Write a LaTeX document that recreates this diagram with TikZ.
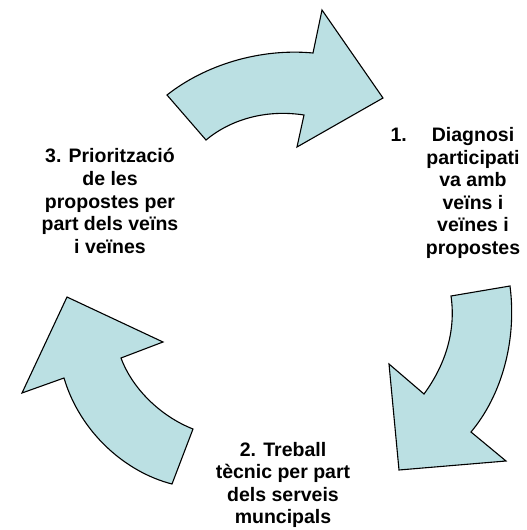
\documentclass[tikz,border=0pt]{standalone}
\usepackage{fontspec}
\setmainfont{Liberation Sans}
\definecolor{arrowfill}{HTML}{BBE0E3}
\begin{document}
\begin{tikzpicture}[x=1pt,y=-1pt,
  cyclearrow/.style={draw=black,fill=arrowfill,line width=1.1pt,line join=miter},
  steplabel/.style={align=center,inner sep=0pt,font=\fontsize{19.5}{22.6}\selectfont\bfseries}]
\useasboundingbox (0,0) rectangle (527,530);
% top arrow
\path[cyclearrow] (167,95) .. controls (205,65) and (260,48) .. (313,53)
  -- (322,10) -- (383,98) -- (297,147) -- (304,115)
  .. controls (265,109) and (230,120) .. (206,140) -- cycle;
% right arrow
\path[cyclearrow] (510,286) .. controls (517,340) and (502,395) .. (471,432)
  -- (506,461) -- (399,470) -- (389,364) -- (424,394)
  .. controls (446,364) and (456,330) .. (451,296) -- cycle;
% left arrow
\path[cyclearrow] (172,484) .. controls (125,472) and (80,432) .. (64,378)
  -- (22,393) -- (67,297) -- (163,342) -- (121,358)
  .. controls (132,388) and (160,416) .. (193,429) -- cycle;
\node[steplabel] (s1) at (473,193) {\makebox[0pt][r]{1.\hspace{25pt}}Diagnosi\\participati\\va amb\\veïns i\\veïnes i\\propostes};
\node[steplabel] (s2) at (283,485) {2. Treball\\tècnic per part\\dels serveis\\muncipals};
\node[steplabel] (s3) at (110,201) {3. Priorització\\de les\\propostes per\\part dels veïns\\i veïnes};
\end{tikzpicture}
\end{document}
